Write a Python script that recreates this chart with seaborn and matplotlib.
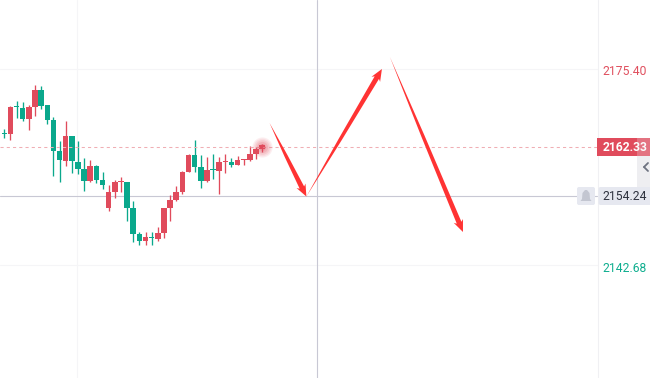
import numpy as np
import pandas as pd
import matplotlib
matplotlib.use("Agg")
import matplotlib.pyplot as plt
from matplotlib.patches import Polygon, Rectangle, FancyBboxPatch
from matplotlib.transforms import Affine2D, IdentityTransform
import seaborn as sns

# candles
opens = [2164.91, 2164.99, 2169.39, 2169.25, 2167.43, 2169.42, 2172.24, 2169.75, 2167.26, 2162.11, 2160.45,
         2164.60, 2160.29, 2159.12, 2157.13, 2159.62, 2157.30, 2152.64, 2155.30, 2156.94, 2156.96, 2152.64,
         2148.33, 2147.16, 2147.68, 2147.50, 2148.49, 2152.64, 2153.97, 2155.30, 2158.62, 2161.45, 2159.45,
         2157.13, 2158.98, 2158.79, 2160.27, 2160.29, 2159.79, 2160.60, 2160.62, 2161.61, 2162.44]
closes = [2164.87, 2169.42, 2169.35, 2167.43, 2169.42, 2172.24, 2169.59, 2167.26, 2162.11, 2160.62, 2164.60,
          2160.45, 2159.12, 2157.13, 2159.62, 2157.30, 2156.46, 2155.30, 2156.96, 2156.98, 2152.64, 2148.33,
          2147.16, 2147.83, 2147.64, 2148.49, 2152.64, 2153.97, 2155.30, 2158.62, 2161.45, 2159.45, 2157.13,
          2158.96, 2158.94, 2160.29, 2160.31, 2159.79, 2160.62, 2160.64, 2161.61, 2162.44, 2163.11]
highs = [2165.77, 2169.59, 2170.42, 2170.25, 2169.75, 2173.07, 2172.91, 2169.75, 2167.76, 2163.77, 2167.09,
         2164.60, 2163.77, 2160.95, 2160.62, 2159.79, 2158.62, 2156.46, 2157.30, 2157.79, 2156.96, 2153.81,
         2148.66, 2148.66, 2148.66, 2149.49, 2152.64, 2154.80, 2156.30, 2158.79, 2161.61, 2163.94, 2161.45,
         2161.12, 2161.61, 2161.12, 2161.61, 2160.95, 2161.28, 2160.78, 2162.94, 2162.78, 2163.27]
lows = [2164.27, 2163.99, 2167.59, 2167.09, 2165.60, 2167.93, 2169.09, 2166.60, 2157.96, 2156.96, 2159.62,
        2158.46, 2158.29, 2155.50, 2156.96, 2156.80, 2155.80, 2152.15, 2154.31, 2155.30, 2150.49, 2147.00,
        2146.50, 2146.50, 2146.50, 2147.16, 2147.66, 2150.49, 2153.81, 2154.97, 2158.62, 2158.62, 2155.97,
        2156.96, 2157.46, 2154.97, 2158.46, 2159.45, 2159.79, 2159.79, 2160.45, 2160.78, 2161.95]

last_price = 2162.33
cross_price = 2154.24
top_label = 2175.40
bottom_label = 2142.68

# where the two horizontal lines really sit against the candles
last_line = 2162.80
cross_line = 2154.62
cross_index = 51.0
grid_prices = [2175.75, 2143.2]
grid_index = 11.9

# hand drawn arrows, (candle index, price)
arrow_starts = [(43.2, 2166.76), (49.2, 2154.55), (62.8, 2177.73)]
arrow_ends = [(49.2, 2154.55), (61.5, 2175.73), (74.7, 2148.66)]

RED = "#e04b5c"
GREEN = "#0aa88c"
ARROW = "#ff3333"

sns.set_style("white")
plt.rcParams["font.family"] = ["Roboto", "DejaVu Sans"]

df = pd.DataFrame({"open": opens, "close": closes, "high": highs, "low": lows})
df["idx"] = np.arange(len(df))
df["up"] = df["close"] > df["open"]
df["body_low"] = df[["open", "close"]].min(axis=1)
df["body"] = (df["close"] - df["open"]).abs().clip(lower=0.17)

fig, ax = plt.subplots(figsize=(6.5, 3.78), dpi=100)
fig.subplots_adjust(0, 0, 1, 1)

for up, color in [(True, RED), (False, GREEN)]:
    sub = df[df["up"] == up]
    ax.vlines(sub["idx"], sub["low"], sub["high"], color=color, lw=0.95, zorder=3)
    sns.barplot(data=sub, x="idx", y="body", bottom=sub["body_low"].values, native_scale=True,
                color=color, saturation=1, width=0.9, errorbar=None, linewidth=0, ax=ax, zorder=3)

ax.set_xlim(-0.7, 105.16)
ax.set_ylim(2124.41, 2187.19)
ax.axis("off")
fig.patch.set_facecolor("white")

# everything in the price panel ends at px 597, so use pixel coords for the overlay
px = Affine2D().scale(1, -1).translate(0, 378)


def px_line(x0, y0, x1, y1, **kw):
    ax.plot([x0, x1], [y0, y1], transform=px, clip_on=False, **kw)


def px_y(price):
    return 378 - ax.transData.transform((0, price))[1]


def px_box(x, y, w, h, color, zorder=5, alpha=1):
    ax.add_patch(Rectangle((x, y), w, h, transform=px, color=color, lw=0, zorder=zorder, alpha=alpha))


# grid
for p in grid_prices:
    px_line(0, px_y(p), 597, px_y(p), color="#f5f5f7", lw=0.8, zorder=1)
gx = ax.transData.transform((grid_index, 0))[0]
px_line(gx, 0, gx, 378, color="#f5f5f7", lw=0.8, zorder=1)
px_line(597.5, 0, 597.5, 378, color="#f0f0f3", lw=0.8, zorder=1)

# crosshair and last price line
cx = ax.transData.transform((cross_index, 0))[0]
px_line(cx, 0, cx, 378, color="#c8c8d4", lw=0.8, zorder=2)
px_line(0, px_y(cross_line), 597, px_y(cross_line), color="#c8c8d4", lw=0.8, zorder=2)
px_line(0, px_y(last_line), 597, px_y(last_line), color="#f0aeb4", lw=0.75, ls=(0, (3, 3)), zorder=4)

# glow on the last candle
for size, alpha in [(210, 0.09), (160, 0.1), (110, 0.13), (65, 0.17), (25, 0.25)]:
    ax.scatter(df["idx"].iloc[-1], last_line, s=size, color=RED, alpha=alpha, lw=0, zorder=4)


def arrow(start, end, neck=5.0, head=10.0, head_len=12.0, barb=2.0):
    a = ax.transData.transform(start)
    b = ax.transData.transform(end)
    length = np.hypot(*(b - a))
    d = (b - a) / length
    n = np.array([-d[1], d[0]])
    nk = b - d * (head_len - barb)
    hb = b - d * head_len
    # the pen thickens fast, then stays nearly even up to the head
    mid = a + d * length * 0.45
    pts = [a, mid + n * neck * 0.33, nk + n * neck / 2, hb + n * head / 2, b,
           hb - n * head / 2, nk - n * neck / 2, mid - n * neck * 0.33]
    ax.add_patch(Polygon(pts, closed=True, transform=IdentityTransform(), color=ARROW, lw=0, zorder=6))


for s, e in zip(arrow_starts, arrow_ends):
    arrow(s, e)

# right axis labels
txt = dict(transform=px, ha="left", va="center", fontsize=8.7, clip_on=False, zorder=9)
ax.text(602.5, 71.5, f"{top_label:.2f}", color="#e0505f", **txt)
ax.text(602.5, 268.5, f"{bottom_label:.2f}", color="#0fae8f", **txt)

# last price tag and the collapse strip
px_box(597, 138, 53, 18, RED)
ax.text(602.5, 147.5, f"{last_price:.2f}", color="white", fontweight="bold", **txt)
px_box(637, 138, 13, 18, "#eeeef1", zorder=10, alpha=0.25)
px_box(637, 156, 13, 31, "#eeeef1", zorder=7)
px_line(648, 163, 644, 167, color="#6d7280", lw=1.3, zorder=8)
px_line(644, 167, 648, 171, color="#6d7280", lw=1.3, zorder=8)

# crosshair tag and bell
ax.add_patch(FancyBboxPatch((598.5, 187), 53, 18, boxstyle="round,pad=0,rounding_size=2", transform=px,
                            color="#e6e8f0", lw=0, zorder=7, clip_on=False))
ax.text(602.5, 196.5, f"{cross_price:.2f}", color="#2f3340", **txt)
ax.add_patch(FancyBboxPatch((577, 187), 18, 18, boxstyle="round,pad=0,rounding_size=2", transform=px,
                            color="#e6e8f0", lw=0, zorder=7))
bell = [(585, 190), (587, 190), (589.5, 193), (590, 199), (591.5, 201), (580.5, 201), (582, 199), (582.5, 193)]
ax.add_patch(Polygon(bell, closed=True, transform=px, color="#c3c6d1", lw=0, zorder=8))

fig.savefig("out.png", dpi=100)
